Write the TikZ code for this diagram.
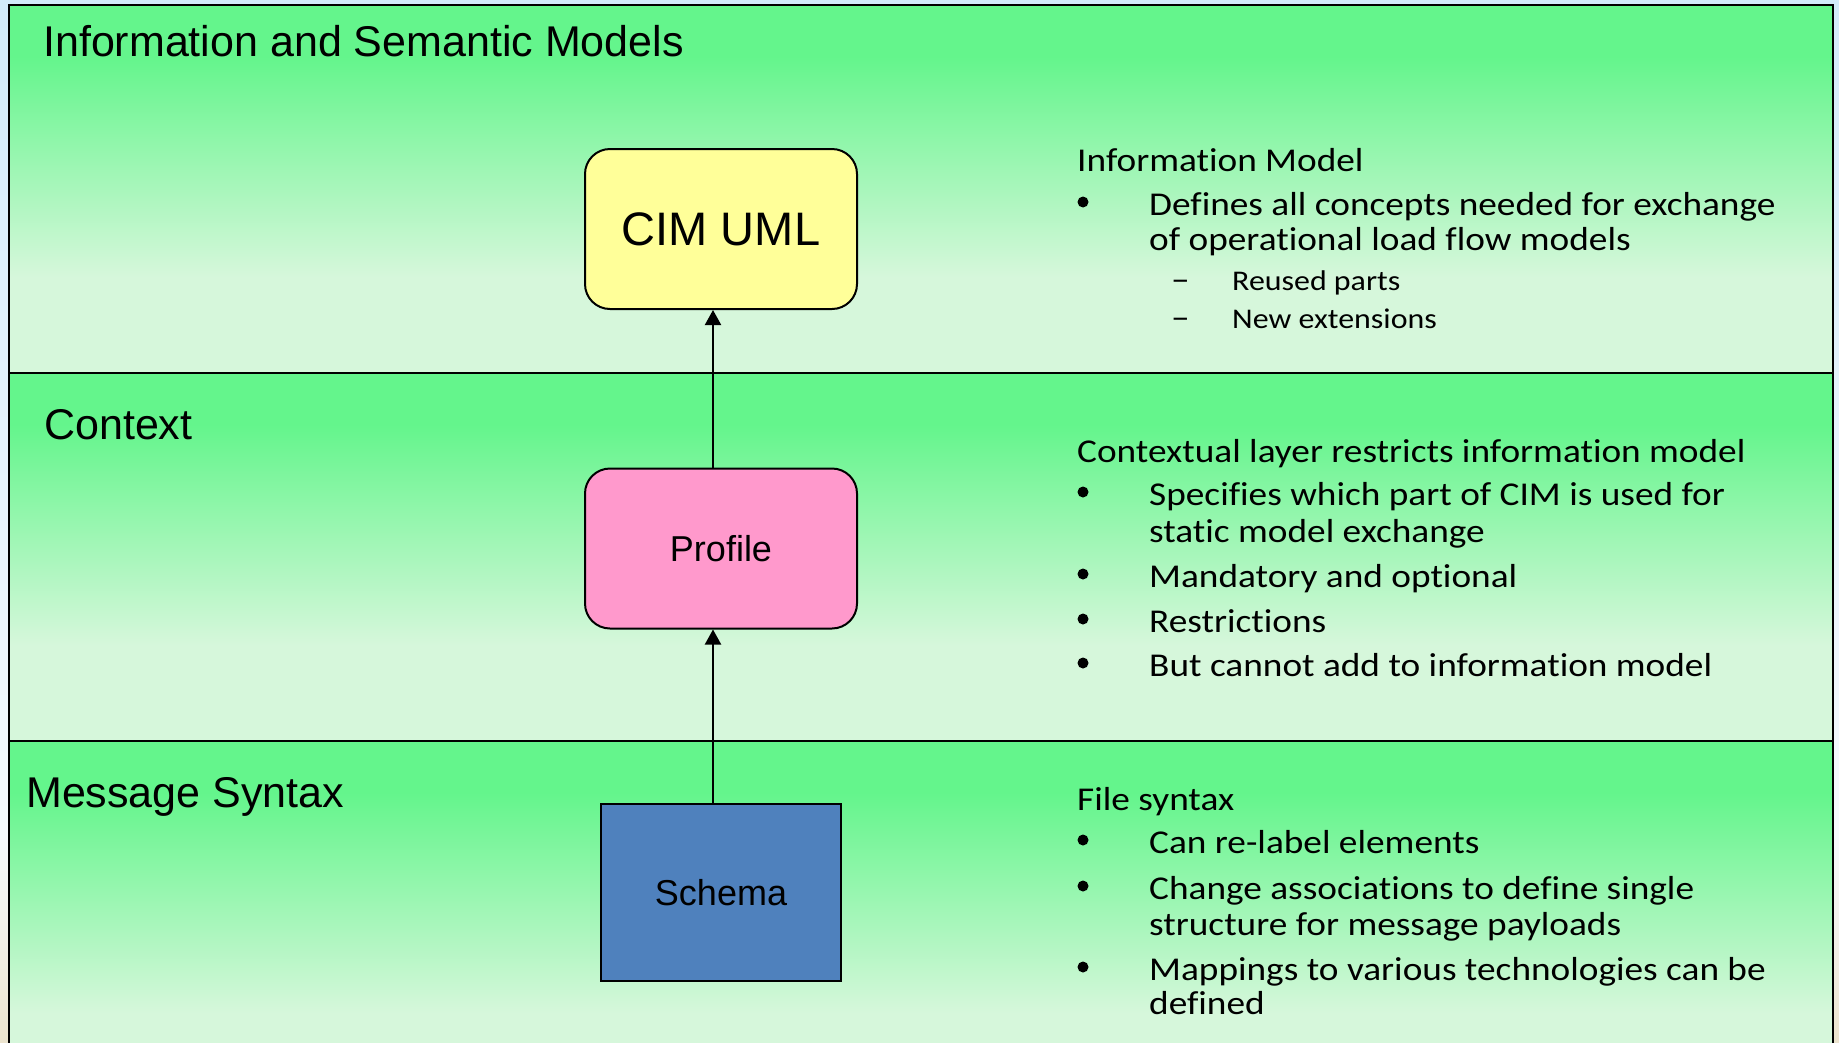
\documentclass[tikz,border=0pt]{standalone}
\usepackage{fontspec}
\setmainfont{Liberation Sans}
\newfontfamily\rtf[FakeStretch=1.12,RawFeature={-liga}]{Carlito}
\usetikzlibrary{arrows.meta}
\definecolor{grn}{RGB}{100,245,140}
\definecolor{pale}{RGB}{214,247,219}
\definecolor{skyA}{RGB}{210,235,250}
\definecolor{skyB}{RGB}{246,250,253}
\definecolor{sand}{RGB}{236,228,206}
\definecolor{sandL}{RGB}{242,240,232}
\definecolor{cimfill}{RGB}{255,255,153}
\definecolor{proffill}{RGB}{255,153,204}
\definecolor{schfill}{RGB}{79,129,189}
\pgfdeclareverticalshading{band}{100bp}{color(0bp)=(pale); color(38bp)=(pale); color(68bp)=(grn); color(100bp)=(grn)}
\pgfdeclareverticalshading{outside}{100bp}{color(0bp)=(sand); color(25bp)=(sand); color(30bp)=(sandL); color(35bp)=(skyB); color(75bp)=(skyA); color(100bp)=(skyA)}
\tikzset{
  lab/.style={anchor=base west, inner sep=0pt, font=\fontsize{43}{50}\selectfont},
  rt/.style={anchor=base west, inner sep=0pt, font=\rtf\fontsize{33.3}{40}\selectfont},
  rtsub/.style={anchor=base west, inner sep=0pt, font=\rtf\fontsize{28.5}{34}\selectfont},
  rbox/.style={draw, line width=2pt, rounded corners=25pt, inner sep=0pt, minimum width=272pt, minimum height=160pt},
  sbox/.style={draw, line width=2pt, inner sep=0pt, minimum width=240pt, minimum height=177pt},
  link/.style={line width=2pt, -{Triangle[length=15pt,width=16pt]}},
  frame/.style={line width=2.5pt},
  bul/.style={fill=black}
}
\begin{document}
\begin{tikzpicture}[x=1pt,y=-1pt]
\useasboundingbox (0,0) rectangle (1839,1042);
\begin{scope}
\clip (0,0) rectangle (1839,1042);
\shade[shading=outside] (0,0) rectangle (1839,1042);
\shade[shading=band] (9,5) rectangle (1833,373);
\shade[shading=band] (9,373) rectangle (1833,741);
\shade[shading=band] (9,741) rectangle (1833,1109);
\draw[frame] (9,5) rectangle (1833,1120);
\draw[frame] (9,373) -- (1833,373);
\draw[frame] (9,741) -- (1833,741);

% layer titles
\node[lab] (t1) at (43,56) {Information and Semantic Models};
\node[lab] (t2) at (44,439) {Context};
\node[lab] (t3) at (26,807) {Message Syntax};

% boxes
\node[rbox, fill=cimfill, font=\fontsize{47}{56}\selectfont] (cim) at (721,229) {CIM UML};
\node[rbox, fill=proffill, font=\fontsize{36}{44}\selectfont] (prof) at (721,548.5) {Profile};
\node[sbox, fill=schfill, font=\fontsize{36}{44}\selectfont] (sch) at (721,892.5) {Schema};

\draw[link] ([xshift=-8pt]prof.north) -- ([xshift=-8pt]cim.south);
\draw[link] ([xshift=-8pt]sch.north) -- ([xshift=-8pt]prof.south);

% section 1 text
\node[rt] (a0) at (1077,171) {Information Model};
\fill[bul] (1083,202) circle (5.5pt);
\node[rt] (a1) at (1149,215) {Defines all concepts needed for exchange};
\node[rt] (a2) at (1149,250) {of operational load flow models};
\node[rt] (d1) at (1171,290) {–};
\node[rtsub] (a3) at (1232,290) {Reused parts};
\node[rt] (d2) at (1171,328) {–};
\node[rtsub] (a4) at (1232,328) {New extensions};

% section 2 text
\node[rt] (b0) at (1077,462) {Contextual layer restricts information model};
\fill[bul] (1083,492) circle (5.5pt);
\node[rt] (b1) at (1149,505) {Specifies which part of CIM is used for};
\node[rt] (b2) at (1149,542) {static model exchange};
\fill[bul] (1083,574) circle (5.5pt);
\node[rt] (b3) at (1149,587) {Mandatory and optional};
\fill[bul] (1083,619) circle (5.5pt);
\node[rt] (b4) at (1149,632) {Restrictions};
\fill[bul] (1083,663) circle (5.5pt);
\node[rt] (b5) at (1149,676) {But cannot add to information model};

% section 3 text
\node[rt] (c0) at (1077,810) {File syntax};
\fill[bul] (1083,840) circle (5.5pt);
\node[rt] (c1) at (1149,853) {Can re-label elements};
\fill[bul] (1083,886) circle (5.5pt);
\node[rt] (c2) at (1149,899) {Change associations to define single};
\node[rt] (c3) at (1149,935) {structure for message payloads};
\fill[bul] (1083,967) circle (5.5pt);
\node[rt] (c4) at (1149,980) {Mappings to various technologies can be};
\node[rt] (c5) at (1149,1014) {defined};
\end{scope}
\end{tikzpicture}
\end{document}
